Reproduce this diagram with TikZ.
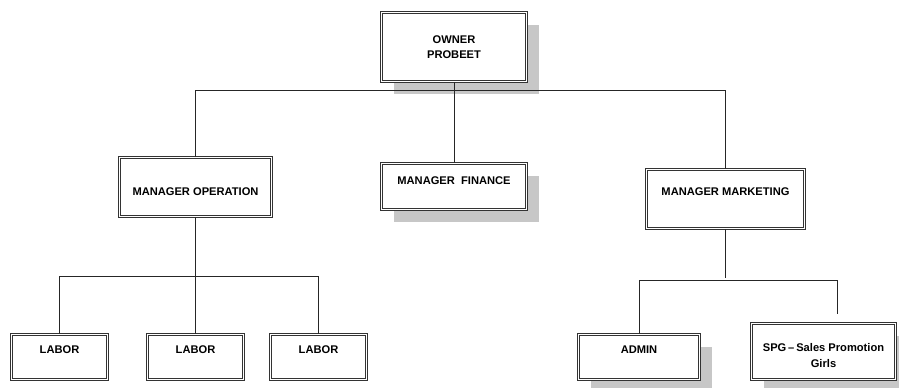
\documentclass[tikz,border=0pt]{standalone}
\usepackage{fontspec}
\setmainfont{Liberation Sans}
\usetikzlibrary{shadows}

\begin{document}
\begin{tikzpicture}[x=0.75pt, y=-0.75pt,
          post/.style={rectangle, draw=black!80, line width=0.5pt, double, double distance=1.1pt, fill=white, inner sep=0pt},
          shade/.style={drop shadow={shadow xshift=9.5pt, shadow yshift=-9.5pt, fill=black!22, opacity=1}},
          caption/.style={font=\fontsize{8.35}{11.7}\selectfont\bfseries, align=center, inner sep=0pt},
          link/.style={draw=black!85, line width=0.6pt}]
          \useasboundingbox[fill=white] (0,0) rectangle (899,387);
          % top
          \node[post, shade, minimum width=109pt, minimum height=52pt,
            label={[caption]center:OWNER\\PROBEET}] (own) at (454,47) {};
          % managers
          \node[post, minimum width=114.25pt, minimum height=44.5pt,
            label={[caption, yshift=-3.75pt]center:MANAGER OPERATION}] (mop) at (195.5,187) {};
          \node[post, shade, minimum width=109pt, minimum height=34.75pt,
            label={[caption, yshift=4.5pt]center:MANAGER~~FINANCE}] (fin) at (454,186.5) {};
          \node[post, minimum width=118.75pt, minimum height=44.5pt,
            label={[caption, yshift=5.25pt]center:MANAGER MARKETING}] (mmk) at (725.5,199) {};
          % staff
          \node[post, minimum width=72.25pt, minimum height=34pt,
            label={[caption, yshift=5.25pt]center:LABOR}] (lab1) at (59.5,357) {};
          \node[post, minimum width=72.25pt, minimum height=34pt,
            label={[caption, yshift=5.25pt]center:LABOR}] (lab2) at (195.5,357) {};
          \node[post, minimum width=72.25pt, minimum height=34pt,
            label={[caption, yshift=5.25pt]center:LABOR}] (lab3) at (318.5,357) {};
          \node[post, shade, minimum width=91pt, minimum height=34pt,
            label={[caption, yshift=5.25pt]center:ADMIN}] (adm) at (639,357) {};
          \node[post, shade, minimum width=108.25pt, minimum height=42.25pt,
            label={[caption, yshift=-3pt]center:SPG\,--\,Sales Promotion\\Girls}] (spg) at (823.5,351.5) {};
          \coordinate (spgend) at (837,314);
          % lines
          \draw[link] (own.south) -- (fin.north);
          \draw[link] (mop.north) -- ++(0,-67) -| (mmk.north);
          \draw[link] (mop.south) -- (lab2.north);
          \draw[link] (lab1.north) -- ++(0,-58) -| (lab3.north);
          \draw[link] (mmk.south) -- ++(0,49);
          \draw[link] (adm.north) -- ++(0,-54) -| (spgend);
        \end{tikzpicture}
\end{document}
